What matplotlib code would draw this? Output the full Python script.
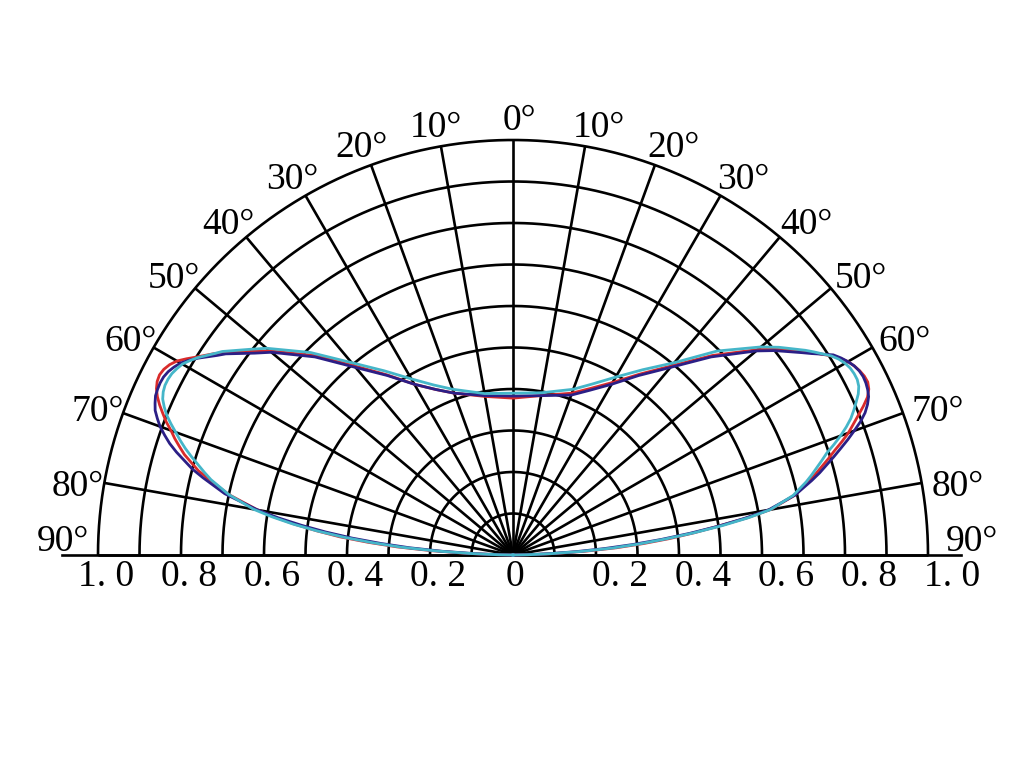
import numpy as np
import matplotlib
matplotlib.use("Agg")
import matplotlib.pyplot as plt

# ---- data (angle from vertical in degrees, negative = left side) ----
angles = [-90, -89, -88, -87, -86, -85, -84, -83, -82, -81, -80, -78, -76, -75,
          -73, -72, -71, -70, -69, -68, -67, -66, -65, -64, -63, -62, -61, -60,
          -59, -58, -56, -55, -52, -50, -45, -40, -35, -30, -25, -20, -10, 0,
          10, 20, 25, 30, 35, 40, 45, 50, 52, 55, 56, 58, 59, 60, 61, 62, 63,
          64, 65, 66, 67, 68, 69, 70, 71, 72, 73, 75, 76, 78, 80, 81, 82, 83,
          84, 85, 86, 87, 88, 89, 90]

red = [0.0, 0.04, 0.11, 0.195, 0.28, 0.35, 0.42, 0.475, 0.53, 0.58, 0.625,
       0.70, 0.755, 0.785, 0.828, 0.845, 0.862, 0.877, 0.895, 0.91, 0.925,
       0.938, 0.948, 0.954, 0.956, 0.953, 0.946, 0.935, 0.918, 0.90, 0.868,
       0.85, 0.797, 0.765, 0.68, 0.595, 0.53, 0.475, 0.44, 0.415, 0.388, 0.378,
       0.39, 0.415, 0.443, 0.48, 0.532, 0.595, 0.68, 0.77, 0.805, 0.855,
       0.872, 0.905, 0.92, 0.932, 0.94, 0.946, 0.95, 0.951, 0.946, 0.935,
       0.917, 0.897, 0.878, 0.86, 0.838, 0.815, 0.795, 0.755, 0.735, 0.695,
       0.63, 0.57, 0.50, 0.44, 0.38, 0.315, 0.25, 0.175, 0.10, 0.04, 0.0]

navy = [0.0, 0.03, 0.09, 0.17, 0.25, 0.32, 0.39, 0.455, 0.515, 0.573, 0.625,
        0.71, 0.77, 0.80, 0.848, 0.87, 0.888, 0.905, 0.918, 0.93, 0.937,
        0.943, 0.945, 0.946, 0.945, 0.941, 0.934, 0.925, 0.911, 0.895, 0.86,
        0.845, 0.79, 0.76, 0.675, 0.59, 0.528, 0.475, 0.44, 0.415, 0.39,
        0.383, 0.39, 0.41, 0.438, 0.475, 0.528, 0.59, 0.675, 0.765, 0.8,
        0.85, 0.868, 0.91, 0.922, 0.932, 0.94, 0.945, 0.947, 0.946, 0.943,
        0.938, 0.928, 0.915, 0.897, 0.875, 0.853, 0.83, 0.808, 0.765, 0.742,
        0.695, 0.625, 0.565, 0.50, 0.43, 0.36, 0.29, 0.22, 0.15, 0.08, 0.03,
        0.0]

cyan = [0.0, 0.035, 0.10, 0.185, 0.27, 0.34, 0.41, 0.475, 0.535, 0.588,
        0.635, 0.70, 0.75, 0.77, 0.81, 0.83, 0.848, 0.865, 0.883, 0.90, 0.913,
        0.924, 0.93, 0.933, 0.933, 0.931, 0.926, 0.92, 0.909, 0.897, 0.868,
        0.855, 0.805, 0.775, 0.69, 0.605, 0.542, 0.49, 0.452, 0.425, 0.395,
        0.39, 0.397, 0.425, 0.455, 0.495, 0.545, 0.605, 0.695, 0.78, 0.813,
        0.86, 0.875, 0.905, 0.916, 0.924, 0.929, 0.931, 0.931, 0.927, 0.918,
        0.905, 0.892, 0.878, 0.86, 0.84, 0.818, 0.795, 0.778, 0.745, 0.728,
        0.69, 0.63, 0.575, 0.51, 0.44, 0.37, 0.305, 0.24, 0.165, 0.09, 0.035,
        0.0]

ring_values = [0.1, 0.2, 0.3, 0.4, 0.5, 0.6, 0.7, 0.8, 0.9, 1.0]
spoke_angles = list(range(-90, 91, 10))
angle_labels = ["90°", "80°", "70°", "60°", "50°", "40°", "30°", "20°", "10°",
                "0°", "10°", "20°", "30°", "40°", "50°", "60°", "70°", "80°", "90°"]
tick_values = [-1.0, -0.8, -0.6, -0.4, -0.2, 0.0, 0.2, 0.4, 0.6, 0.8, 1.0]
tick_labels = ["1. 0", "0. 8", "0. 6", "0. 4", "0. 2", "0",
               "0. 2", "0. 4", "0. 6", "0. 8", "1. 0"]

series = [(red, "#d92b2b"), (navy, "#2b1f86"), (cyan, "#45b6c9")]

# ---- figure ----
W, H = 1024, 768
cx, cy, R = 513, 555, 415.0
fig = plt.figure(figsize=(W / 100, H / 100), dpi=100)
ax = fig.add_axes([0, 0, 1, 1])
ax.set_xlim(-cx / R, (W - cx) / R)
ax.set_ylim(-(H - cy) / R, cy / R)
ax.axis("off")

font = ["Liberation Serif", "DejaVu Serif"]
gc = "black"
glw = 1.9

# rings
t = np.radians(np.linspace(-90, 90, 400))
for rv in ring_values:
    ax.plot(rv * np.sin(t), rv * np.cos(t), color=gc, lw=glw, zorder=1,
            solid_capstyle="butt")

# spokes
for a in spoke_angles:
    ar = np.radians(a)
    ax.plot([0, np.sin(ar)], [0, np.cos(ar)], color=gc, lw=glw, zorder=1,
            solid_capstyle="butt")

# baseline
ax.plot([-1.087, 1.08], [0, 0], color=gc, lw=glw, zorder=1)

# curves
th = np.radians(np.array(angles, dtype=float))
for vals, col in series:
    r = np.array(vals)
    ax.plot(r * np.sin(th), r * np.cos(th), color=col, lw=2.0, zorder=3,
            solid_joinstyle="round")

# angle labels
fs = 27
dy_lab = -8 / R
for a, lab in zip(spoke_angles, angle_labels):
    ar = np.radians(a)
    if abs(a) == 90:
        x = -1.085 if a < 0 else 1.105
        ax.text(x, 0.032, lab, fontsize=fs, family=font, ha="center",
                va="center")
        continue
    rr = 1.065
    x = rr * np.sin(ar)
    y = rr * np.cos(ar) + dy_lab
    if a > 0:
        x += 0.022
    if a == 0:
        x += 0.015
    ax.text(x, y, lab, fontsize=fs, family=font, ha="center", va="center")

# radial tick labels along baseline
for v, lab in zip(tick_values, tick_labels):
    if v < 0:
        x = v + 8 / R
    elif v > 0:
        x = v + 24 / R
    else:
        x = 2 / R
    ax.text(x, -22 / R, lab, fontsize=fs, family=font, ha="center",
            va="center")

fig.savefig("out.png", dpi=100, facecolor="white")
